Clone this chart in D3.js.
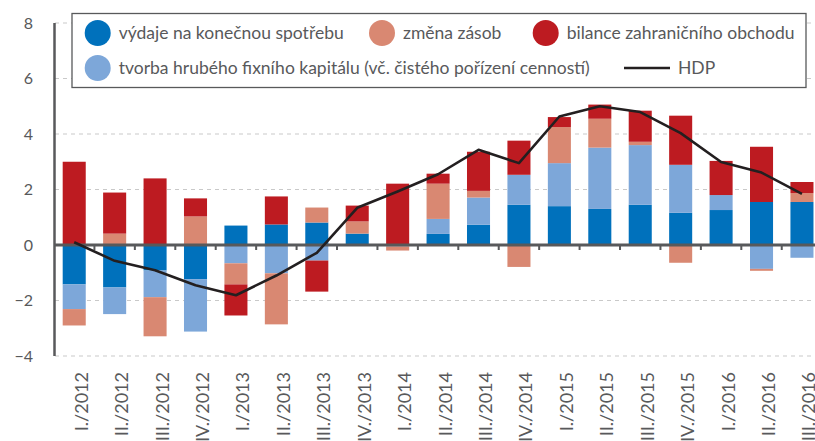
<!DOCTYPE html>
<html>
<head>
<meta charset="utf-8">
<script src="https://cdn.jsdelivr.net/npm/d3@7"></script>
<style>
  body { margin: 0; background: #fff; }
  text { font-family: Lato, "Noto Sans", sans-serif; fill: #58595b; }
</style>
</head>
<body>
<div id="chart"></div>
<script>
// quarters
let categories = ["I./2012","II./2012","III./2012","IV./2012",
    "I./2013","II./2013","III./2013","IV./2013",
    "I./2014","II./2014","III./2014","IV./2014",
    "I./2015","II./2015","III./2015","IV./2015",
    "I./2016","II./2016","III./2016"];

let vydaje  = [-1.42,-1.53,-0.92,-1.23, 0.70, 0.74, 0.81, 0.41, 0.03, 0.40, 0.73, 1.45, 1.40, 1.30, 1.45, 1.16, 1.26, 1.55, 1.55];
let tvorba  = [-0.89,-0.96,-0.96,-1.89,-0.66,-1.02,-0.56, 0.00,-0.05, 0.54, 0.98, 1.08, 1.55, 2.21, 2.15, 1.73, 0.54,-0.86,-0.46];
let zmena   = [-0.59, 0.41,-1.41, 1.03,-0.76,-1.84, 0.54, 0.44,-0.15, 1.27, 0.24,-0.79, 1.30, 1.04, 0.12,-0.64, 0.00,-0.07, 0.32];
let bilance = [ 3.00, 1.48, 2.40, 0.65,-1.12, 1.01,-1.12, 0.57, 2.18, 0.36, 1.41, 1.23, 0.36, 0.51, 1.12, 1.77, 1.23, 1.99, 0.40];
let hdp     = [ 0.10,-0.57,-0.91,-1.45,-1.81,-1.10,-0.28, 1.34, 1.93, 2.55, 3.43, 2.95, 4.63, 5.00, 4.79, 4.03, 2.99, 2.61, 1.84];

let yTicks = [-4, -2, 0, 2, 4, 6, 8];

let seriesNames = ["výdaje na konečnou spotřebu", "tvorba hrubého fixního kapitálu (vč. čistého pořízení cenností)",
    "změna zásob", "bilance zahraničního obchodu"];
let colors = ["#0071bc", "#7da7d9", "#d98872", "#bd1b21"];

let width = 815, height = 441;

let svg = d3.select("#chart").append("svg")
    .attr("width", width)
    .attr("height", height);

let x = d3.scaleBand()
    .domain(categories)
    .range([54, 54 + 19 * 40.43])
    .paddingInner(0.43)
    .paddingOuter(0.215);

let y = d3.scaleLinear()
    .domain([-4, 8])
    .range([356, 23]);

// gridlines
svg.append("g")
    .selectAll("line")
    .data(yTicks.filter(d => d !== 0))
    .join("line")
    .attr("x1", 55)
    .attr("x2", width)
    .attr("y1", d => y(d))
    .attr("y2", d => y(d))
    .attr("stroke", "#c9c9c9")
    .attr("stroke-width", 1)
    .attr("stroke-dasharray", "4,4");

// y labels
svg.append("g")
    .selectAll("text")
    .data(yTicks)
    .join("text")
    .attr("x", 33)
    .attr("y", d => y(d))
    .attr("dy", "0.36em")
    .attr("text-anchor", "end")
    .style("font-size", "16px")
    .text(d => d < 0 ? "\u2212" + Math.abs(d) : d);

// stacked bars
let rows = categories.map((c, i) => ({cat: c, s0: vydaje[i], s1: tvorba[i], s2: zmena[i], s3: bilance[i]}));
let stack = d3.stack()
    .keys(["s0", "s1", "s2", "s3"])
    .offset(d3.stackOffsetDiverging);
let layers = stack(rows);

svg.append("g")
    .selectAll("g")
    .data(layers)
    .join("g")
    .attr("fill", (d, i) => colors[i])
    .selectAll("rect")
    .data(d => d)
    .join("rect")
    .attr("x", d => x(d.data.cat))
    .attr("width", x.bandwidth())
    .attr("y", d => y(Math.max(d[0], d[1])))
    .attr("height", d => Math.abs(y(d[0]) - y(d[1])));

// y axis line
svg.append("line")
    .attr("x1", 54.5).attr("x2", 54.5)
    .attr("y1", 23).attr("y2", 356)
    .attr("stroke", "#58595b")
    .attr("stroke-width", 2.5);

// zero line + small ticks
svg.append("line")
    .attr("x1", 54).attr("x2", width)
    .attr("y1", y(0)).attr("y2", y(0))
    .attr("stroke", "#58595b")
    .attr("stroke-width", 3);

svg.append("g")
    .selectAll("rect")
    .data(categories.slice(1))
    .join("rect")
    .attr("x", d => x(d) - x.step() * x.paddingInner() / 2 - 1)
    .attr("y", y(0) + 1)
    .attr("width", 2)
    .attr("height", 4)
    .attr("fill", "#58595b");

// HDP line
let line = d3.line()
    .x((d, i) => x(categories[i]) + x.bandwidth() / 2)
    .y(d => y(d));

svg.append("path")
    .datum(hdp)
    .attr("d", line)
    .attr("fill", "none")
    .attr("stroke", "#231f20")
    .attr("stroke-width", 2.6)
    .attr("stroke-linejoin", "round");

// x labels
svg.append("g")
    .selectAll("text")
    .data(categories)
    .join("text")
    .attr("transform", d => `translate(${x(d) + x.bandwidth() / 2 + 7},372) rotate(-90)`)
    .attr("text-anchor", "end")
    .attr("dy", "0.36em")
    .style("font-size", "18px")
    .text(d => d);

// legend
let legend = svg.append("g");
legend.append("rect")
    .attr("x", 72).attr("y", 13.5)
    .attr("width", 734).attr("height", 74)
    .attr("fill", "#fff")
    .attr("stroke", "#58595b")
    .attr("stroke-width", 1.3);

let legendItems = [
    {name: seriesNames[0], color: colors[0], cx: 97.7, cy: 33},
    {name: seriesNames[2], color: colors[2], cx: 382, cy: 33},
    {name: seriesNames[3], color: colors[3], cx: 545.7, cy: 33},
    {name: seriesNames[1], color: colors[1], cx: 97.7, cy: 68}
];

legend.selectAll("circle")
    .data(legendItems)
    .join("circle")
    .attr("cx", d => d.cx)
    .attr("cy", d => d.cy)
    .attr("r", 13)
    .attr("fill", d => d.color);

legend.selectAll("text.leg")
    .data(legendItems)
    .join("text")
    .attr("class", "leg")
    .attr("x", d => d.cx + 21)
    .attr("y", d => d.cy)
    .attr("dy", "0.36em")
    .style("font-size", "17.5px")
    .text(d => d.name);

legend.append("line")
    .attr("x1", 624).attr("x2", 670)
    .attr("y1", 68).attr("y2", 68)
    .attr("stroke", "#231f20")
    .attr("stroke-width", 2.6);

legend.append("text")
    .attr("x", 678)
    .attr("y", 68)
    .attr("dy", "0.36em")
    .style("font-size", "17.5px")
    .text("HDP");
</script>
</body>
</html>
